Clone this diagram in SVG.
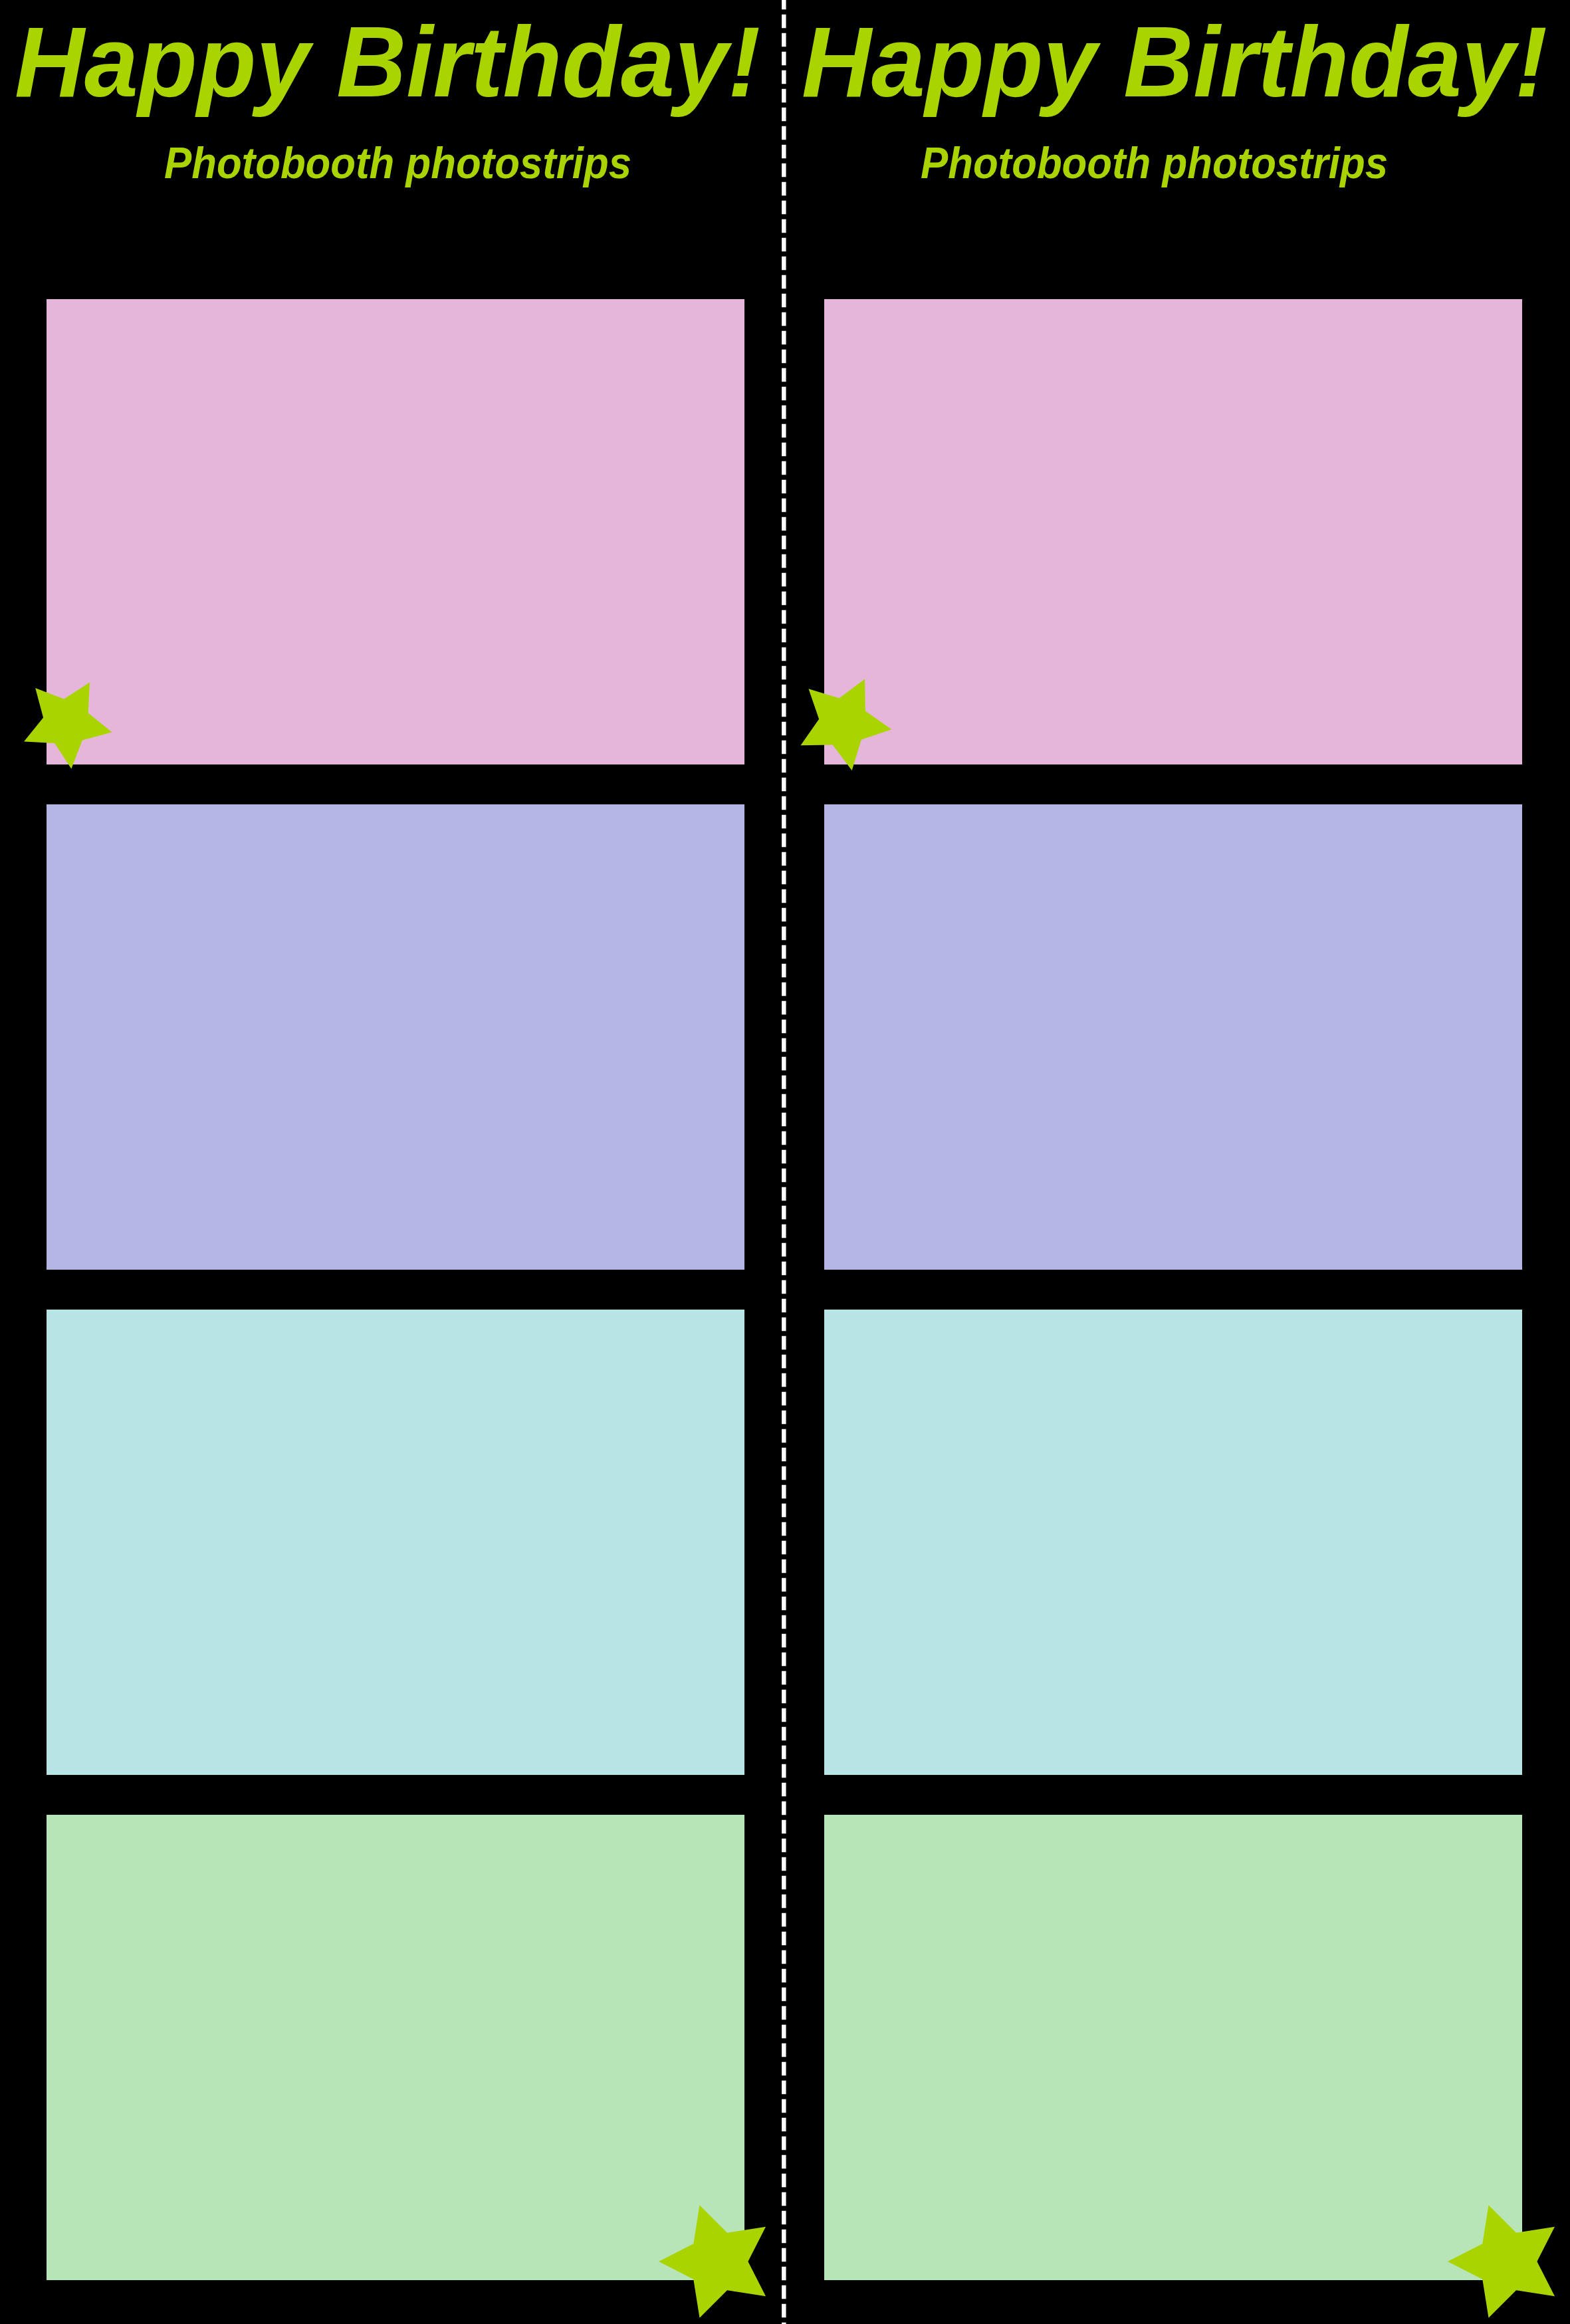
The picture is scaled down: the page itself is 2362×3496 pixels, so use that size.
<svg xmlns="http://www.w3.org/2000/svg" xmlns:xlink="http://www.w3.org/1999/xlink" width="2362" height="3496" viewBox="0 0 2362 3496">
<style>
.title{font-family:"Liberation Sans",Arial,sans-serif;font-weight:bold;font-style:italic;fill:#AAD400;font-size:150px}
.sub{font-family:"Liberation Sans",Arial,sans-serif;font-weight:bold;font-style:italic;fill:#AAD400;font-size:66px}
.pink{fill:#E5B5DA}
.lav{fill:#B5B5E5}
.teal{fill:#B7E5E5}
.mint{fill:#B7E5B7}
.star{fill:#AAD400}
</style>
<defs>
<polygon id="star" points="1,0 0.4126,0.2998 0.309,0.9511 -0.1576,0.4851 -0.809,0.5878 -0.51,0 -0.809,-0.5878 -0.1576,-0.4851 0.309,-0.9511 0.4126,-0.2998"/>
</defs>
<rect x="0" y="0" width="2362" height="3496" fill="#000000"/>
<g id="left-strip">
<g id="left-title"><text class="title" x="22" y="145" textLength="1122" lengthAdjust="spacingAndGlyphs">Happy Birthday!</text></g>
<g id="left-subtitle"><text class="sub" x="247" y="268" textLength="703" lengthAdjust="spacingAndGlyphs">Photobooth photostrips</text></g>
<g id="left-photo-1"><rect class="pink" x="70" y="450" width="1050" height="700"/></g>
<g id="left-photo-2"><rect class="lav" x="70" y="1210" width="1050" height="700"/></g>
<g id="left-photo-3"><rect class="teal" x="70" y="1970" width="1050" height="700"/></g>
<g id="left-photo-4"><rect class="mint" x="70" y="2730" width="1050" height="700"/></g>
<g id="left-star-top"><use xlink:href="#star" class="star" transform="translate(100,1087) rotate(12) scale(70)"/></g>
<g id="left-star-bottom"><use xlink:href="#star" class="star" transform="translate(1080,3402) rotate(36) scale(89)"/></g>
</g>
<g id="right-strip">
<g id="right-title"><text class="title" x="1206" y="145" textLength="1122" lengthAdjust="spacingAndGlyphs">Happy Birthday!</text></g>
<g id="right-subtitle"><text class="sub" x="1385" y="268" textLength="703" lengthAdjust="spacingAndGlyphs">Photobooth photostrips</text></g>
<g id="right-photo-1"><rect class="pink" x="1240" y="450" width="1050" height="700"/></g>
<g id="right-photo-2"><rect class="lav" x="1240" y="1210" width="1050" height="700"/></g>
<g id="right-photo-3"><rect class="teal" x="1240" y="1970" width="1050" height="700"/></g>
<g id="right-photo-4"><rect class="mint" x="1240" y="2730" width="1050" height="700"/></g>
<g id="right-star-top"><use xlink:href="#star" class="star" transform="translate(1269,1087) rotate(8) scale(73)"/></g>
<g id="right-star-bottom"><use xlink:href="#star" class="star" transform="translate(2267,3402) rotate(36) scale(89)"/></g>
</g>
<g id="cut-line">
<line x1="1179.3" y1="0" x2="1179.3" y2="3496" stroke="#FFFFFF" stroke-width="6.5" stroke-dasharray="20.5 7.5" stroke-dashoffset="6.3"/>
</g>
</svg>
